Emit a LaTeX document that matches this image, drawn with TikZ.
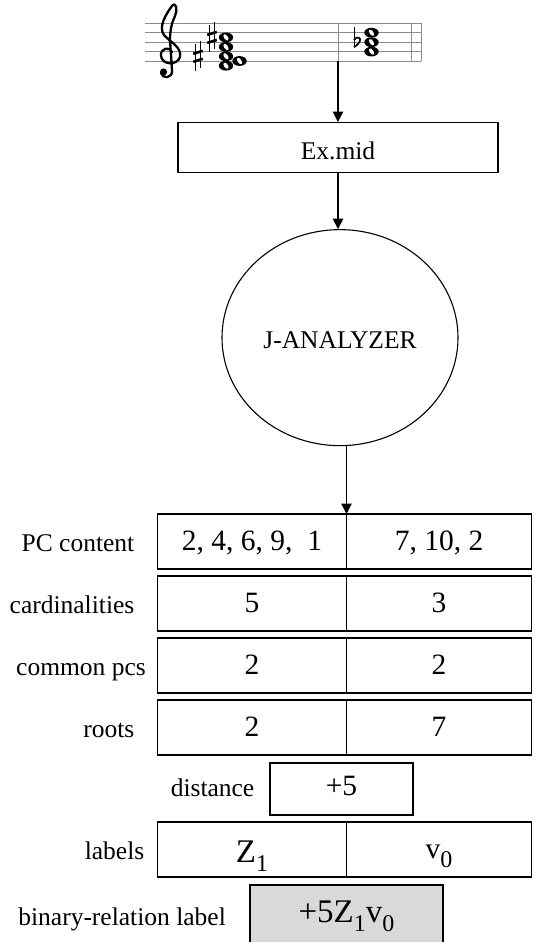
\documentclass[tikz,border=0pt]{standalone}
\usepackage{fontspec}
\setmainfont{Liberation Serif}
\usetikzlibrary{positioning, shapes.geometric, arrows.meta}

\definecolor{shade}{HTML}{D9D9D9}
\definecolor{staffgray}{HTML}{8A8A8A}
\newcommand{\lowsub}[1]{\raisebox{-9pt}{\fontsize{24}{24}\selectfont #1}}

\begin{document}
\begin{tikzpicture}[x=1pt, y=-1pt,
    flow/.style={line width=1.2pt, -{Triangle[length=10.5pt, width=10.5pt]}},
    tabcell/.style={draw, line width=1.1pt, minimum width=189pt, minimum height=55pt,
        inner sep=0pt, outer sep=0pt, font=\fontsize{29.5}{34}\selectfont,
        text height=17pt, text depth=0pt},
    rightcell/.style={tabcell, minimum width=185pt},
    bigcell/.style={tabcell, font=\fontsize{33}{38}\selectfont, text height=25.4pt},
    rowname/.style={inner sep=0pt, font=\fontsize{25.5}{30}\selectfont,
        text height=20pt, text depth=0pt},
    staffline/.style={staffgray, line width=0.8pt},
    clefstroke/.style={line width=2.3pt, line cap=round, line join=round},
    wnote/.pic={
        \fill (0,0) ellipse [x radius=7.2pt, y radius=4.9pt];
        \fill[white, rotate=35] (0,0) ellipse [x radius=1.9pt, y radius=3.6pt];
    },
    sharpsign/.pic={
        \draw[line width=1pt] (-2.4,-12) -- (-2.4,15) (2.4,-15) -- (2.4,12);
        \draw[line width=2.6pt] (-4.8,-2.5) -- (4.8,-5.5) (-4.8,5.5) -- (4.8,2.5);
    },
    flatsign/.pic={
        \draw[line width=1pt] (-3,-15) -- (-3,5);
        \draw[line width=1.7pt, line join=round] (-3,5) .. controls (2,2) and (5,-3) .. (2,-4.5)
            .. controls (0,-5.5) and (-2,-4) .. (-3,-2);
    }]
    \useasboundingbox (0,0) rectangle (537,942);

    % score excerpt
    \foreach \k in {0,...,4}
        \draw[staffline] (145,23.3+9.43*\k) -- (421,23.3+9.43*\k);
    \coordinate (barFoot) at (338,61);
    \draw[staffline] (338,23.3) -- (barFoot);
    \draw[staffline] (411,23.3) -- (411,61);
    \draw[staffline] (421,23.3) -- (421,61);
    % treble clef
    \draw[clefstroke] (172,52) .. controls (170,46) and (160,48) .. (161,56)
        .. controls (162,65) and (177,66) .. (180,57)
        .. controls (182,47) and (170,42) .. (164,35)
        .. controls (158,27) and (166,14) .. (172,6)
        .. controls (176,1) and (178,10) .. (175,16)
        .. controls (172,22) and (170,30) .. (170,40)
        -- (172,70)
        .. controls (173,79) and (162,79) .. (161,73);
    \fill (163.5,72) circle [radius=3.6pt];
    \foreach \nx/\ny in {226/37.4, 226/46.9, 226/56.3, 226/65.7, 239.5/61,
                         371.5/32.7, 371.5/42.2, 371.5/51.6}
        \pic at (\nx,\ny) {wnote};
    \pic at (198,56.3) {sharpsign};
    \pic at (212,37.4) {sharpsign};
    \pic at (357,42.2) {flatsign};

    % file and analyser
    \node[draw, line width=1.1pt, minimum width=320pt, minimum height=50pt, inner sep=0pt,
          font=\fontsize{25.5}{30}\selectfont, text height=24pt, text depth=0pt,
          below=61pt of barFoot] (exmid) {Ex.mid};
    \node[draw, ellipse, line width=1.1pt, minimum width=236pt, minimum height=216pt,
          inner sep=0pt, font=\fontsize{25.5}{30}\selectfont, text height=21pt, text depth=0pt,
          below=56pt of exmid, xshift=2pt] (analyzer) {J-ANALYZER};

    % results
    \node[tabcell] (pcL) at (252,541.5) {2, 4, 6, 9,~~1};
    \node[rightcell, right=0pt of pcL] (pcR) {7, 10, 2};
    \node[tabcell, below=7pt of pcL] (cardL) {5};
    \node[rightcell, right=0pt of cardL] (cardR) {3};
    \node[tabcell, below=7pt of cardL] (commonL) {2};
    \node[rightcell, right=0pt of commonL] (commonR) {2};
    \node[tabcell, below=7pt of commonL] (rootsL) {2};
    \node[rightcell, right=0pt of rootsL] (rootsR) {7};
    \node[tabcell, minimum width=143pt, minimum height=52pt, text height=12pt,
          below=8pt of rootsL.south east, xshift=-5pt] (distance) {+5};
    \node[bigcell, anchor=north, yshift=-7pt] (labelsL) at (rootsL |- distance.south) {Z\lowsub{1}};
    \node[bigcell, rightcell, right=0pt of labelsL] (labelsR) {v\lowsub{0}};
    \node[bigcell, fill=shade, minimum width=193pt, minimum height=58pt, text height=17pt,
          below=8pt of labelsL.south east] (binary) {+5Z\lowsub{1}v\lowsub{0}};

    \node[rowname, left=23pt of pcL] (pcName) {PC content};
    \node[rowname, left=23pt of cardL] (cardName) {cardinalities};
    \node[rowname, left=11.5pt of commonL] (commonName) {common pcs};
    \node[rowname, left=23pt of rootsL] (rootsName) {roots};
    \node[rowname, left=15.5pt of distance, text height=14pt] (distName) {distance};
    \node[rowname, left=13pt of labelsL] (labelsName) {labels};
    \node[rowname, left=24pt of binary, text height=22pt] (binName) {binary-relation label};

    \draw[flow] (barFoot) -- (exmid);
    \draw[flow] (exmid) -- (exmid |- analyzer.north);
    \draw[flow] (analyzer.south -| pcL.north east) -- (pcL.north east);
\end{tikzpicture}
\end{document}
